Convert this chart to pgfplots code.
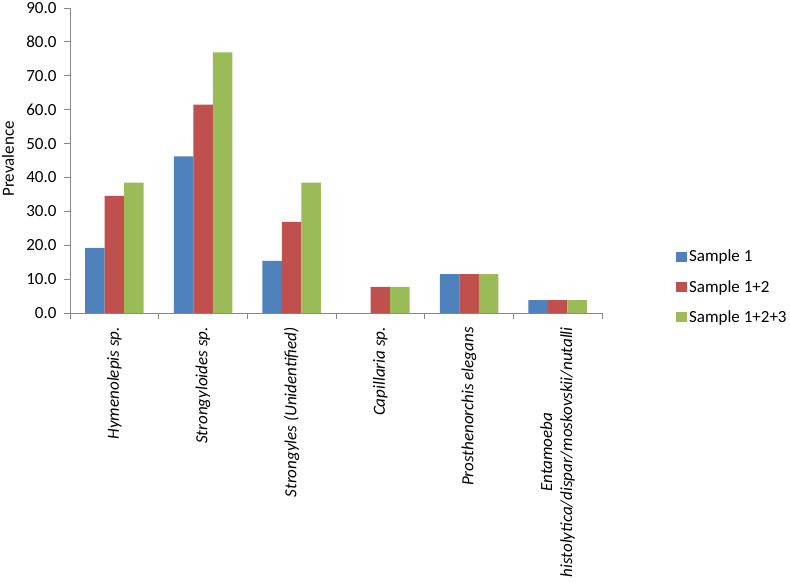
\documentclass[border=0pt]{standalone}
\usepackage{pgfplots}
\pgfplotsset{compat=1.18}
\usepackage{fontspec}
\setmainfont{Carlito}
\definecolor{s1}{HTML}{4F81BD}
\definecolor{s2}{HTML}{C0504D}
\definecolor{s3}{HTML}{9BBB59}
\definecolor{axgray}{HTML}{868686}
\newcommand{\chartfont}{\fontsize{17bp}{20bp}\selectfont}
\begin{document}
\begin{tikzpicture}[font=\chartfont]
\path[use as bounding box] (-70bp,-270bp) rectangle (720bp,313bp);
\begin{axis}[
  at={(0,0)}, anchor=south west,
  scale only axis,
  width=532bp, height=305bp,
  ybar=0pt, bar width=19.5bp,
  legend image code/.code={\fill[#1] (0bp,-5bp) rectangle (11bp,5bp);},
  xmin=-0.5, xmax=5.5,
  ymin=0, ymax=90,
  ytick={0,10,...,90},
  xtick={0,1,2,3,4,5},
  xticklabels={{Hymenolepis sp.},{Strongyloides sp.},{Strongyles (Unidentified)},{Capillaria sp.},{Prosthenorchis elegans},{Entamoeba\\histolytica/dispar/moskovskii/nutalli}},
  minor xtick={-0.5,0.5,...,5.5},
  major x tick style={draw=none},
  tick align=outside,
  major tick length=6bp, minor tick length=6bp,
  tick style={axgray, line width=0.8pt},
  axis x line*=bottom, axis y line*=left,
  axis line style={axgray, line width=0.8pt},
  tick label style={font=\chartfont},
  label style={font=\chartfont},
  xticklabel style={rotate=90, anchor=east, align=center, font=\chartfont\itshape, inner sep=0pt, xshift=-8bp},
  yticklabel style={xshift=-4bp, /pgf/number format/.cd, fixed, fixed zerofill, precision=1, assume math mode=true},
  ylabel={Prevalence},
  ylabel style={at={(axis description cs:-0.1165,0.505)}, anchor=center},
  legend style={draw=none, at={(axis description cs:1.139,0.085)}, anchor=west, row sep=13bp, font=\chartfont, inner sep=0pt, cells={anchor=west}},
  enlargelimits=false,
  clip=false,
]
\addplot[draw=none, fill=s1] coordinates {(0,19.2) (1,46.2) (2,15.4) (3,0) (4,11.5) (5,3.8)};
\addplot[draw=none, fill=s2] coordinates {(0,34.6) (1,61.5) (2,26.9) (3,7.7) (4,11.5) (5,3.8)};
\addplot[draw=none, fill=s3] coordinates {(0,38.5) (1,76.9) (2,38.5) (3,7.7) (4,11.5) (5,3.8)};
\legend{Sample 1, Sample 1+2, Sample 1+2+3}
\end{axis}
\end{tikzpicture}
\end{document}
